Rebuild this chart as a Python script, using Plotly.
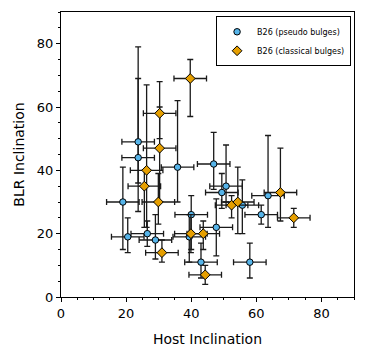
import plotly.graph_objects as go

# B26 pseudo bulges
pseudo_host = [19, 20.5, 26.5, 29, 40, 39.4, 47.7, 43, 58, 61.5, 63.6, 55.7, 49.4, 50.7, 23.7, 23.7, 35.8, 46.9]
pseudo_blr = [30, 19, 20, 18, 26, 19, 22, 11, 11, 26, 32, 29, 33, 35, 49, 44, 41, 42]
pseudo_blr_up = [11, 6, 4, 8, 6, 7, 9, 6, 6, 3, 19, 8, 6, 13, 30, 25, 21, 10]
pseudo_blr_lo = [15, 5, 4, 6, 11, 8, 9, 5, 5, 3, 10, 9, 5, 5, 13, 17, 11, 8]
pseudo_host_err = [5] * len(pseudo_host)

# B26 classical bulges
classical_host = [39.7, 30.3, 30.3, 26.3, 25.6, 29.9, 31, 39.9, 43.7, 44.3, 52.4, 54.3, 67.4, 71.5]
classical_blr = [69, 58, 47, 40, 35, 30, 14, 20, 20, 7, 29, 30, 33, 25]
classical_blr_up = [6, 10, 13, 27, 5, 9, 4, 6, 4, 3, 3, 11, 14, 3]
classical_blr_lo = [12, 8, 17, 18, 13, 7, 3, 6, 5, 3, 4, 10, 9, 3]
classical_host_err = [5] * len(classical_host)

BLUE = "#56B4E9"
ORANGE = "#E69F00"
FONT = "DejaVu Sans"


def add_series(fig, x, y, xerr, up, lo, name, color, symbol, size):
    fig.add_trace(go.Scatter(
        x=x, y=y, mode="markers", name=name,
        marker=dict(color=color, symbol=symbol, size=size,
                    line=dict(color="black", width=1)),
        error_x=dict(type="data", array=xerr, color="#1a1a1a", thickness=1.3, width=3),
        error_y=dict(type="data", symmetric=False, array=up, arrayminus=lo,
                     color="#1a1a1a", thickness=1.3, width=3),
    ))


fig = go.Figure()
add_series(fig, pseudo_host, pseudo_blr, pseudo_host_err, pseudo_blr_up, pseudo_blr_lo,
           "B26 (pseudo bulges)", BLUE, "circle", 6.5)
add_series(fig, classical_host, classical_blr, classical_host_err, classical_blr_up,
           classical_blr_lo, "B26 (classical bulges)", ORANGE, "diamond", 7.5)

axis_style = dict(
    range=[0, 90], showgrid=False, zeroline=False, automargin=False,
    showline=True, linecolor="black", linewidth=1.2, mirror=True,
    ticks="outside", ticklen=4, tickwidth=1, tickcolor="black",
    dtick=20, tick0=0,
    minor=dict(ticks="outside", ticklen=2, dtick=5, tickcolor="black"),
    tickfont=dict(family=FONT, size=13, color="black"),
)

# the page body has an 8px margin, so the figure is a bit smaller and margins shifted
fig.update_layout(
    width=358, height=352,
    margin=dict(l=53, r=12, t=4, b=63),
    plot_bgcolor="white", paper_bgcolor="white",
    font=dict(family=FONT, color="black"),
    xaxis=dict(axis_style, title=dict(text="Host Inclination", font=dict(size=14), standoff=14)),
    yaxis=dict(axis_style, title=dict(text="BLR Inclination", font=dict(size=14), standoff=8)),
    legend=dict(
        x=0.99, y=0.985, xanchor="right", yanchor="top",
        bordercolor="black", borderwidth=1, bgcolor="white",
        font=dict(family=FONT, size=8), itemwidth=30,
        tracegroupgap=0,
    ),
    showlegend=True,
)

fig.write_html("out.html")
